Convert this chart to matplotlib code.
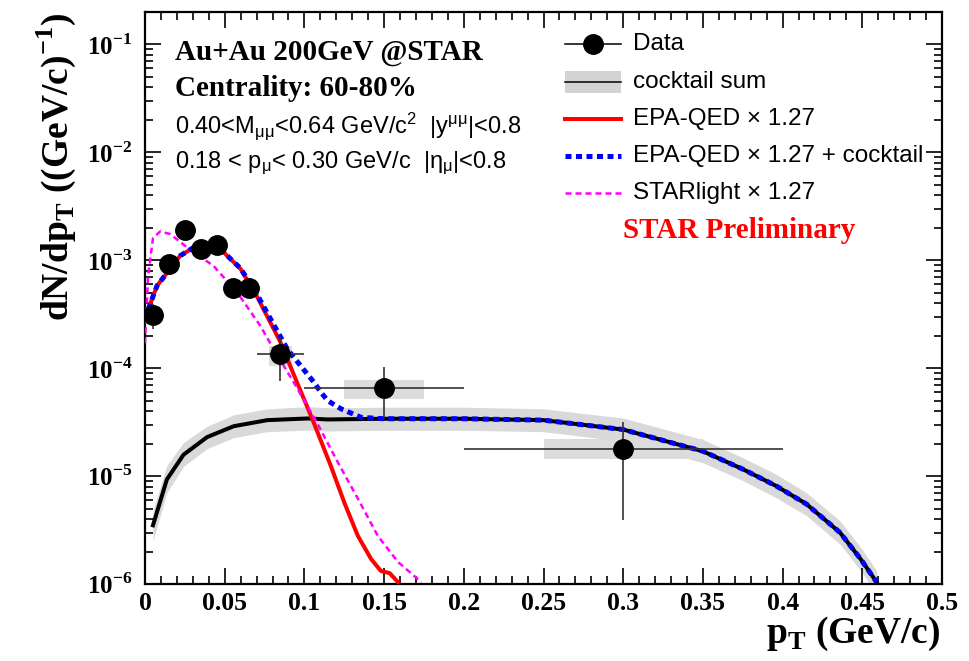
import numpy as np
import matplotlib
matplotlib.use("Agg")
import matplotlib.pyplot as plt
from matplotlib.patches import Rectangle
from matplotlib.ticker import MultipleLocator, LogLocator, NullFormatter, FuncFormatter

SERIF = "Liberation Serif"
SANS = "Liberation Sans"
plt.rcParams['font.family'] = SERIF
plt.rcParams['font.weight'] = 'bold'
plt.rcParams['mathtext.fontset'] = 'custom'
plt.rcParams['mathtext.rm'] = SANS + ':normal'
plt.rcParams['mathtext.it'] = SANS + ':italic:normal'
plt.rcParams['mathtext.bf'] = SERIF + ':bold'

# data points
pt = [0.005, 0.015, 0.025, 0.035, 0.045, 0.055, 0.065, 0.085, 0.15, 0.30]
pt_err = [0.005, 0.005, 0.005, 0.005, 0.005, 0.005, 0.005, 0.015, 0.05, 0.1]
dndpt = [3.1e-4, 9.2e-4, 1.9e-3, 1.26e-3, 1.38e-3, 5.5e-4, 5.5e-4, 1.35e-4, 6.5e-5, 1.8e-5]
stat_lo = [2.3e-4, 8.0e-4, 1.7e-3, 1.1e-3, 1.2e-3, 4.4e-4, 4.5e-4, 7.6e-5, 3.4e-5, 3.9e-6]
stat_hi = [3.9e-4, 1.05e-3, 2.1e-3, 1.42e-3, 1.55e-3, 6.5e-4, 6.5e-4, 1.94e-4, 1.02e-4, 3.2e-5]
sys_w = [0.0025, 0.0025, 0.0025, 0.0025, 0.0025, 0.0025, 0.0025, 0.0075, 0.025, 0.05]
sys_lo = [2.8e-4, 8.3e-4, 1.7e-3, 1.13e-3, 1.24e-3, 4.9e-4, 4.9e-4, 1.05e-4, 5.2e-5, 1.44e-5]
sys_hi = [3.4e-4, 1.01e-3, 2.1e-3, 1.39e-3, 1.52e-3, 6.1e-4, 6.1e-4, 1.6e-4, 7.8e-5, 2.2e-5]

# cocktail sum with its band
ck_x = [0.005, 0.0137, 0.0242, 0.039, 0.0557, 0.0767, 0.102, 0.1145, 0.15, 0.2, 0.25,
        0.3, 0.35, 0.375, 0.396, 0.415, 0.436, 0.449, 0.459]
ck_y = [3.5e-6, 9.3e-6, 1.58e-5, 2.3e-5, 2.9e-5, 3.3e-5, 3.42e-5, 3.35e-5, 3.4e-5, 3.4e-5, 3.3e-5,
        2.7e-5, 1.7e-5, 1.16e-5, 8.1e-6, 5.5e-6, 3.0e-6, 1.7e-6, 1.04e-6]
ck_lo = [2.5e-6, 7.0e-6, 1.23e-5, 1.8e-5, 2.27e-5, 2.58e-5, 2.67e-5, 2.62e-5, 2.66e-5, 2.66e-5, 2.58e-5,
         2.1e-5, 1.33e-5, 9.1e-6, 6.3e-6, 4.3e-6, 2.34e-6, 1.33e-6, 8.1e-7]
ck_hi = [4.8e-6, 1.25e-5, 2.05e-5, 2.9e-5, 3.7e-5, 4.2e-5, 4.4e-5, 4.3e-5, 4.35e-5, 4.35e-5, 4.2e-5,
         3.45e-5, 2.18e-5, 1.48e-5, 1.04e-5, 7.0e-6, 3.85e-6, 2.18e-6, 1.33e-6]

# EPA-QED x 1.27
epa_x = [0.002, 0.0075, 0.014, 0.022, 0.03, 0.039, 0.049, 0.06, 0.07, 0.085, 0.095, 0.105,
         0.1166, 0.125, 0.1335, 0.1419, 0.148, 0.1535, 0.1587]
epa_y = [3.5e-4, 5.8e-4, 7.7e-4, 1.1e-3, 1.3e-3, 1.35e-3, 1.2e-3, 8.3e-4, 4.7e-4, 1.74e-4, 7.6e-5, 3.37e-5,
         1.24e-5, 5.7e-6, 2.8e-6, 1.7e-6, 1.32e-6, 1.26e-6, 1.04e-6]

# EPA-QED x 1.27 + cocktail
tot_x = [0.002, 0.0075, 0.014, 0.022, 0.03, 0.039, 0.049, 0.06, 0.07, 0.0893, 0.0977, 0.106, 0.1103,
         0.1146, 0.123, 0.1356, 0.15, 0.2, 0.25, 0.3, 0.35, 0.375, 0.396, 0.415, 0.436, 0.449, 0.459]
tot_y = [3.5e-4, 5.8e-4, 7.7e-4, 1.1e-3, 1.3e-3, 1.35e-3, 1.2e-3, 8.4e-4, 4.9e-4, 1.5e-4, 1.05e-4, 7.4e-5, 6.0e-5,
         5.0e-5, 4.2e-5, 3.5e-5, 3.4e-5, 3.4e-5, 3.3e-5, 2.7e-5, 1.7e-5, 1.16e-5, 8.1e-6, 5.5e-6, 3.0e-6, 1.7e-6, 1.04e-6]

# STARlight x 1.27
sl_x = [0.0, 0.0019, 0.005, 0.0095, 0.0158, 0.0284, 0.0429, 0.058, 0.0725, 0.0807, 0.0933, 0.108,
        0.121, 0.1335, 0.146, 0.1587, 0.1734]
sl_y = [1.7e-4, 7.1e-4, 1.6e-3, 1.85e-3, 1.75e-3, 1.25e-3, 8.9e-4, 5.0e-4, 2.45e-4, 1.5e-4, 7.4e-5, 3.1e-5,
        1.34e-5, 6.2e-6, 2.8e-6, 1.6e-6, 1.04e-6]

W, H = 969, 661
L, R, T, B = 145, 942, 12, 584
fig = plt.figure(figsize=(W / 100, H / 100), dpi=100)
ax = fig.add_axes([L / W, 1 - B / H, (R - L) / W, (B - T) / H])


def axc(px, py):
    return (px - L) / (R - L), (B - py) / (B - T)


GRAY = '#d9d9d9'
ax.fill_between(ck_x, ck_lo, ck_hi, color=GRAY, lw=0, zorder=1)
ax.bar(pt, np.array(sys_hi) - np.array(sys_lo), bottom=sys_lo, width=2 * np.array(sys_w),
       color='#dcdcdc', lw=0, zorder=2)
ax.plot(ck_x, ck_y, color='black', lw=2.9, zorder=3)
ax.plot(epa_x, epa_y, color='#ff0000', lw=2.9, zorder=4)
ax.plot(sl_x, sl_y, color='#ff00ff', lw=1.8, dashes=(2.4, 1.6), zorder=4)
ax.plot(tot_x, tot_y, color='#0000ff', lw=3.6, dashes=(1.2, 0.9), zorder=5)

yv = np.array(dndpt)
ax.errorbar(pt, dndpt, xerr=pt_err, yerr=[yv - np.array(stat_lo), np.array(stat_hi) - yv],
            fmt='o', ms=14, color='black', ecolor='#333333', elinewidth=1.2, capsize=0, zorder=6)

ax.set_xlim(0, 0.5)
ax.set_yscale('log')
ax.set_ylim(1e-6, 0.2)

ax.xaxis.set_major_locator(MultipleLocator(0.05))
ax.xaxis.set_minor_locator(MultipleLocator(0.01))
ax.xaxis.set_major_formatter(FuncFormatter(lambda v, p: '%g' % v))
ax.yaxis.set_major_locator(LogLocator(base=10, numticks=12))
ax.yaxis.set_minor_locator(LogLocator(base=10, subs=range(2, 10), numticks=12))
ax.yaxis.set_minor_formatter(NullFormatter())
ax.yaxis.set_major_formatter(FuncFormatter(
    lambda v, p: r'$\mathbf{10}^{\mathbf{%d}}$' % int(round(np.log10(v)))))

ax.tick_params(which='both', direction='in', top=True, right=True, width=1.2)
ax.tick_params(which='major', length=11.5)
ax.tick_params(which='minor', length=5.8)
ax.tick_params(axis='x', pad=6, labelsize=18.5)
ax.tick_params(axis='y', pad=9, labelsize=18)
for s in ax.spines.values():
    s.set_linewidth(1.6)

# axis titles
fig.text(56 / W, 1 - 13 / H, r'dN/dp$_{\mathbf{T}}$ ((GeV/c)$^{\mathbf{-1}}$)', rotation=90,
         ha='center', va='top', size=27, weight='bold', family=SERIF)
fig.text(940 / W, 1 - 643 / H, r'p$_{\mathbf{T}}$ (GeV/c)', ha='right', va='baseline',
         size=27, weight='bold', family=SERIF)

# header texts
fig.text(175 / W, 1 - 60 / H, 'Au+Au 200GeV @STAR', size=21, weight='bold', family=SERIF)
fig.text(175 / W, 1 - 96 / H, 'Centrality: 60-80%', size=21, weight='bold', family=SERIF)
fig.text(175 / W, 1 - 133 / H, r'0.40<M$_{\mathrm{μμ}}$<0.64 GeV/c$^{\mathrm{2}}$  |y$^{\mathrm{μμ}}$|<0.8',
         size=17, weight='normal', family=SANS)
fig.text(175 / W, 1 - 168 / H, r'0.18 < p$_{\mathrm{μ}}$< 0.30 GeV/c  |η$_{\mathrm{μ}}$|<0.8',
         size=17, weight='normal', family=SANS)

# legend
hx0, hx1, tx = 565, 621, 633
rows = [44, 82, 119, 156, 193]
labels = ['Data', 'cocktail sum', 'EPA-QED × 1.27', 'EPA-QED × 1.27 + cocktail', 'STARlight × 1.27']
styles = [dict(color='black', lw=1.1),
          dict(color='black', lw=1.1),
          dict(color='#ff0000', lw=2.9),
          dict(color='#0000ff', lw=3.6, dashes=(1.2, 0.9)),
          dict(color='#ff00ff', lw=1.8, dashes=(2.4, 1.6))]
for ry, lab, st in zip(rows, labels, styles):
    (ax0, ay), (ax1, _) = axc(hx0, ry), axc(hx1, ry)
    if lab == 'cocktail sum':
        bx, by = axc(hx0, ry + 11)
        ax.add_patch(Rectangle((bx, by), ax1 - ax0, 22 / (B - T), transform=ax.transAxes,
                               color='#d3d3d3', lw=0, clip_on=False, zorder=7))
    ax.plot([ax0, ax1], [ay, ay], transform=ax.transAxes, clip_on=False, zorder=8, **st)
    if lab == 'Data':
        ax.plot([(ax0 + ax1) / 2], [ay], 'o', ms=14, color='black', transform=ax.transAxes,
                clip_on=False, zorder=9)
    ax.text(axc(tx, ry)[0], ay, lab, transform=ax.transAxes, va='center', ha='left',
            size=17.5, weight='normal', family=SANS)

fig.text(623 / W, 1 - 238 / H, 'STAR Preliminary', color='#ff0000', size=21, weight='bold',
         family=SERIF)

fig.savefig('out.png', dpi=100)
